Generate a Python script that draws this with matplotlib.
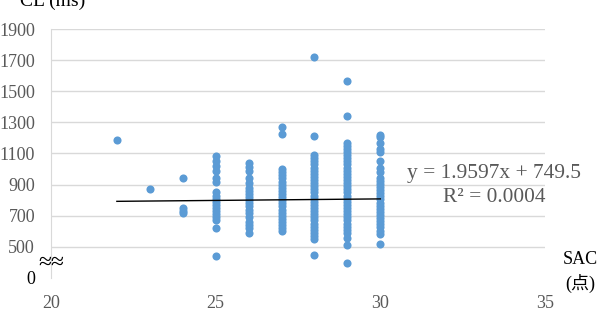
import matplotlib
matplotlib.use("Agg")
import matplotlib.pyplot as plt

plt.rcParams['font.family'] = ['Liberation Serif', 'Noto Sans CJK JP', 'DejaVu Sans']

# SAC score (x) and CL in ms (y)
sac_22 = [1185]
sac_23 = [870]
sac_24 = [940, 750, 730, 720]
sac_25 = [1085, 1050, 1020, 985, 945, 915, 850, 830, 810, 790, 770, 750, 730,
          710, 690, 670, 620, 440]
sac_26 = [1040, 1015, 990, 940, 910, 880, 860, 840, 820, 800, 780, 760, 740,
          720, 690, 660, 640, 620, 590]
sac_27 = [1270, 1225, 1000, 980, 960, 940, 920, 900, 880, 860, 840, 820, 800,
          780, 760, 740, 720, 700, 680, 660, 640, 620, 600]
sac_28 = [1720, 1210, 1090, 1070, 1050, 1030, 1010, 990, 970, 950, 930, 910,
          890, 870, 850, 830, 810, 790, 770, 750, 730, 710, 690, 670, 650,
          630, 610, 590, 570, 550, 450]
sac_29 = [1565, 1340, 1170, 1150, 1130, 1110, 1090, 1070, 1050, 1030, 1010,
          990, 970, 950, 930, 910, 890, 870, 850, 830, 810, 790, 770, 750,
          730, 710, 690, 670, 650, 630, 610, 590, 560, 510, 395]
sac_30 = [1220, 1205, 1170, 1130, 1110, 1050, 1010, 980, 945, 925, 905, 885,
          865, 845, 825, 805, 785, 765, 745, 725, 705, 685, 665, 645, 625,
          605, 585, 520]
columns = {22: sac_22, 23: sac_23, 24: sac_24, 25: sac_25, 26: sac_26,
           27: sac_27, 28: sac_28, 29: sac_29, 30: sac_30}

slope = 1.9597
intercept = 749.5
fit_x = [22, 30]

y_ticks = [300, 500, 700, 900, 1100, 1300, 1500, 1700, 1900]
y_labels = ['0', '500', '700', '900', '1100', '1300', '1500', '1700', '1900']
x_ticks = [20, 25, 30, 35]

fig = plt.figure(figsize=(6.02, 3.15), dpi=100)
ax = fig.add_axes([51/602, 1 - 278/315, (545 - 51)/602, (278 - 29)/315])

xs, ys = [], []
for k, vals in columns.items():
    xs += [k] * len(vals)
    ys += vals
ax.scatter(xs, ys, s=34, color='#5B9BD5', zorder=3, linewidths=0)

ax.plot(fit_x, [slope * v + intercept for v in fit_x], color='black', lw=1, zorder=4)

ax.set_xlim(20, 35)
ax.set_ylim(300, 1900)
ax.set_xticks(x_ticks)
ax.set_yticks(y_ticks)
ax.set_yticklabels(y_labels)
ax.tick_params(length=0, labelsize=13, labelcolor='#595959')
ax.tick_params(axis='y', pad=11.5)
ax.tick_params(axis='x', pad=12)
ax.get_yticklabels()[0].set_color('black')

ax.grid(axis='y', color='#D9D9D9', lw=1)
ax.yaxis.get_gridlines()[0].set_visible(False)
ax.set_axisbelow(True)
for side in ['top', 'right', 'bottom']:
    ax.spines[side].set_visible(False)
ax.spines['left'].set_color('#D9D9D9')

fig.text(494/602, 1 - 173/315, 'y = 1.9597x + 749.5', fontsize=15.4,
         color='#595959', ha='center', va='center')
fig.text(494/602, 1 - 197/315, 'R² = 0.0004', fontsize=15.4,
         color='#595959', ha='center', va='center')

fig.text(580/602, 1 - 260/315, 'SAC', fontsize=13, ha='center', va='center')
fig.text(580/602, 1 - 283/315, '(点)', fontsize=13, ha='center', va='center')
fig.text(20/602, 1 - 6/315, 'CL (ms)', fontsize=14, ha='left', va='baseline')
fig.text(51/602, 1 - 263/315, '≈≈', fontsize=17, ha='center', va='center')

fig.savefig('out.png', dpi=100)
